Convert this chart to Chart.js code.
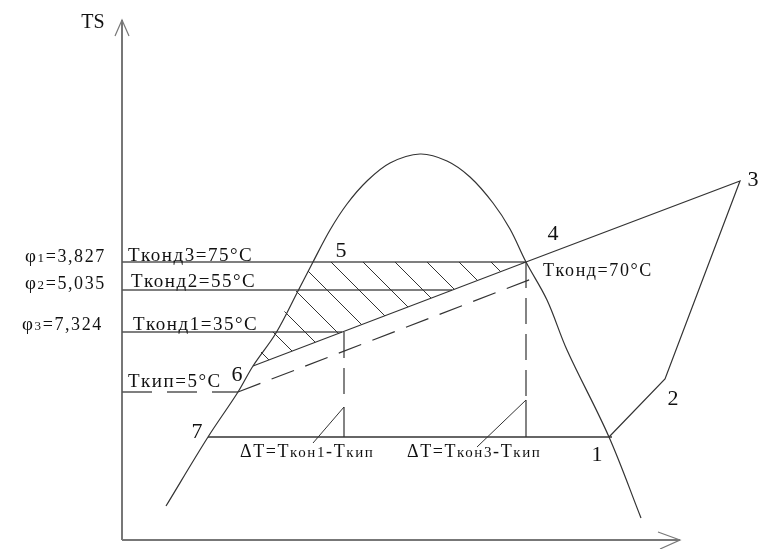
<!DOCTYPE html>
<html>
<head>
<meta charset="utf-8">
<script src="https://cdn.jsdelivr.net/npm/chart.js@4.4.1/dist/chart.umd.min.js"></script>
<style>
  body { margin: 0; background: #fff; }
  canvas { display: block; }
</style>
</head>
<body>
<canvas id="ts" width="763" height="549"></canvas>
<script>
// saturation dome, entropy s vs temperature T (arbitrary units)
const domeS = [44, 86, 116, 131, 154, 176, 191, 208, 225, 245, 268, 298, 325, 348, 371, 388, 404, 425, 445, 487, 519];
const domeT = [34, 103, 148, 174, 207, 249, 278, 310, 336, 359, 377, 386, 379, 363, 337, 311, 278, 240, 190, 103, 22];

// cycle points 1..7
const cycleS = [487, 543, 618, 404, 191, 131, 86];
const cycleT = [103, 161, 359, 278, 278, 174, 103];

// condensing levels (75, 55, 35 °C) and where each line stops
const condT = [278, 250, 208];
const condEnd = [404, 330, 220];
// boiling level (5 °C)
const boilT = 148;
const boilEnd = 116;
// dashed line parallel to 6-4
const dashS = [116, 412];
const dashT = [148, 262];
// verticals to the 7-1 line
const dropS = [222, 404];
const dropTop = [208, 278];
const tickTop = [133, 140];
const leaderEndS = [191, 355];
const leaderEndT = [97, 93];
const baseT = 103;
const baseEnd = 490;

const pt = i => ({ x: cycleS[i - 1], y: cycleT[i - 1] });
const ink = '#333';
const axisInk = '#777';
const serif = '"Liberation Serif", "Times New Roman", serif';

// text labels: parts [text, size], anchor (s, T), alignment, letter spacing
const labels = [
    { parts: [['TS', 20]], s: -29, t: 519, align: 'center', sp: 0 },
    { parts: [['φ', 19], ['1', 13], ['=3,827', 18]], s: -97, t: 285, align: 'left', sp: 1.6 },
    { parts: [['φ', 19], ['2', 13], ['=5,035', 18]], s: -97, t: 258, align: 'left', sp: 1.6 },
    { parts: [['φ', 19], ['3', 13], ['=7,324', 18]], s: -100, t: 217, align: 'left', sp: 1.6 },
    { parts: [['Tконд3=75°C', 19]], s: 6, t: 286, align: 'left', sp: 1.5 },
    { parts: [['Tконд2=55°C', 19]], s: 9, t: 260, align: 'left', sp: 1.5 },
    { parts: [['Tконд1=35°C', 19]], s: 11, t: 217, align: 'left', sp: 1.5 },
    { parts: [['Tкип=5°C', 19]], s: 6, t: 160, align: 'left', sp: 1.5 },
    { parts: [['Tконд=70°C', 18]], s: 421, t: 270, align: 'left', sp: 1.6 },
    { parts: [['ΔT=T', 18], ['кон1', 15], ['-T', 18], ['кип', 15]], s: 118, t: 89, align: 'left', sp: 1.6 },
    { parts: [['ΔT=T', 18], ['кон3', 15], ['-T', 18], ['кип', 15]], s: 285, t: 89, align: 'left', sp: 1.6 },
    { parts: [['1', 22]], s: 475, t: 87, align: 'center', sp: 0 },
    { parts: [['2', 22]], s: 551, t: 143, align: 'center', sp: 0 },
    { parts: [['3', 22]], s: 631, t: 362, align: 'center', sp: 0 },
    { parts: [['4', 22]], s: 431, t: 308, align: 'center', sp: 0 },
    { parts: [['5', 22]], s: 219, t: 291, align: 'center', sp: 0 },
    { parts: [['6', 22]], s: 115, t: 167, align: 'center', sp: 0 },
    { parts: [['7', 22]], s: 75, t: 110, align: 'center', sp: 0 }
];

function hatchPattern() {
    const c = document.createElement('canvas');
    c.width = 32;
    c.height = 32;
    const g = c.getContext('2d');
    g.strokeStyle = ink;
    g.lineWidth = 1;
    g.beginPath();
    g.moveTo(-2, -2); g.lineTo(34, 34);
    g.moveTo(-2, 30); g.lineTo(2, 34);
    g.moveTo(30, -2); g.lineTo(34, 2);
    g.stroke();
    const p = g.createPattern(c, 'repeat');
    p.setTransform(new DOMMatrix().translate(5, 0));
    return p;
}

function line(data, opts = {}) {
    return Object.assign({
        data: data,
        showLine: true,
        borderColor: ink,
        borderWidth: 1.2,
        pointRadius: 0,
        tension: 0,
        fill: false,
        clip: false
    }, opts);
}

const datasets = [];

// hatched area 5-4-6
datasets.push(line([{ x: cycleS[4], y: condT[0] }, pt(4), pt(6)], {
    borderWidth: 0, borderColor: 'rgba(0,0,0,0)', fill: 'shape', backgroundColor: hatchPattern()
}));

// dome
datasets.push(line(domeS.map((s, i) => ({ x: s, y: domeT[i] })), { tension: 0.35 }));

// cycle 4-3-2-1, 4-6, 7-1
datasets.push(line([pt(4), pt(3), pt(2), pt(1)]));
datasets.push(line([pt(4), pt(6)]));
datasets.push(line([pt(7), { x: baseEnd, y: baseT }], { borderWidth: 1.4 }));

// condensing levels
condT.forEach((t, i) => {
    datasets.push(line([{ x: 0, y: t }, { x: condEnd[i], y: t }], { borderColor: '#555', borderWidth: 1.6 }));
});

// boiling level, dashed
datasets.push(line([{ x: 0, y: boilT }, { x: boilEnd, y: boilT }], { borderColor: '#555', borderWidth: 1.4, borderDash: [30, 15] }));
datasets.push(line([{ x: dashS[0], y: dashT[0] }, { x: dashS[1], y: dashT[1] }], { borderDash: [24, 12] }));

// verticals, ticks and leaders
dropS.forEach((s, i) => {
    datasets.push(line([{ x: s, y: dropTop[i] }, { x: s, y: tickTop[i] + 4 }], { borderDash: [26, 10] }));
    datasets.push(line([{ x: s, y: tickTop[i] }, { x: s, y: baseT }]));
    datasets.push(line([{ x: s, y: tickTop[i] }, { x: leaderEndS[i], y: leaderEndT[i] }], { borderWidth: 1 }));
});

// axes with arrows
datasets.push(line([{ x: 0, y: 0 }, { x: 0, y: 520 }], { borderColor: axisInk, borderWidth: 2 }));
datasets.push(line([{ x: -7, y: 504 }, { x: 0, y: 520 }, { x: 7, y: 504 }], { borderColor: axisInk, borderWidth: 1.2 }));
datasets.push(line([{ x: 0, y: 0 }, { x: 558, y: 0 }], { borderColor: axisInk, borderWidth: 2 }));
datasets.push(line([{ x: 536, y: 8 }, { x: 558, y: 0 }, { x: 538, y: -9 }], { borderColor: axisInk, borderWidth: 1.2 }));

const labelPlugin = {
    id: 'labels',
    afterDatasetsDraw(chart) {
        const ctx = chart.ctx;
        const xs = chart.scales.x;
        const ys = chart.scales.y;
        ctx.save();
        ctx.fillStyle = '#111';
        ctx.textBaseline = 'alphabetic';
        ctx.textAlign = 'left';
        labels.forEach(lb => {
            ctx.letterSpacing = lb.sp + 'px';
            let total = 0;
            lb.parts.forEach(p => {
                ctx.font = p[1] + 'px ' + serif;
                total += ctx.measureText(p[0]).width;
            });
            let x = xs.getPixelForValue(lb.s);
            if (lb.align === 'center') x -= total / 2;
            const y = ys.getPixelForValue(lb.t) + lb.parts[0][1] * 0.35;
            lb.parts.forEach(p => {
                ctx.font = p[1] + 'px ' + serif;
                ctx.fillText(p[0], x, y);
                x += ctx.measureText(p[0]).width;
            });
        });
        ctx.restore();
    }
};

new Chart(document.getElementById('ts'), {
    type: 'scatter',
    data: { datasets: datasets },
    options: {
        responsive: false,
        animation: false,
        layout: { padding: 0 },
        plugins: { legend: { display: false }, tooltip: { enabled: false } },
        scales: {
            x: { type: 'linear', min: -122, max: 641, display: false },
            y: { type: 'linear', min: -9, max: 540, display: false }
        }
    },
    plugins: [labelPlugin]
});
</script>
</body>
</html>
